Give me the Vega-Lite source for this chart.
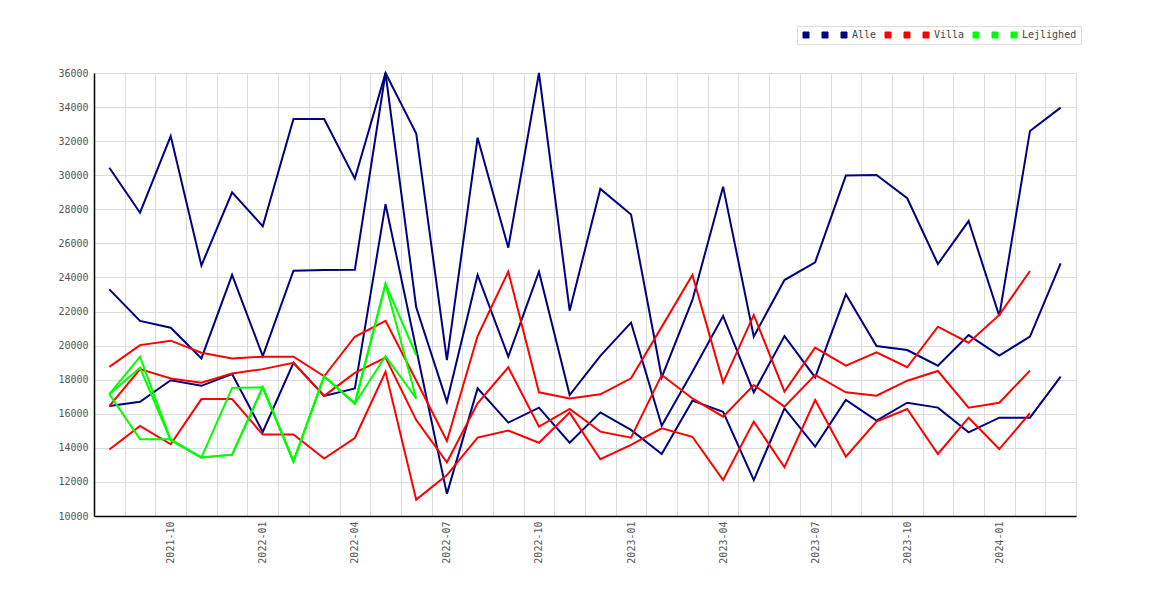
{
  "$schema": "https://vega.github.io/schema/vega-lite/v6.json",
  "width": 982,
  "height": 443,
  "autosize": {"type": "none"},
  "padding": {"left": 94, "top": 73, "right": 94, "bottom": 84},
  "background": "#ffffff",
  "config": {
    "view": {"stroke": "#dcdcdc", "strokeWidth": 1},
    "axis": {"labelFont": "DejaVu Sans Mono", "labelFontSize": 10, "labelColor": "#555555", "gridColor": "#dcdcdc", "gridWidth": 1, "domainColor": "#000000", "domainWidth": 1.5, "ticks": false, "title": null}
  },
  "data": {
    "values": [
      {"m": "2021-08", "Alle a": 30440, "Alle b": 23300, "Alle": 16450, "Villa a": 18750, "Villa b": 16450, "Villa": 13900, "Lejlighed a": 17150, "Lejlighed b": 17150, "Lejlighed": 17150},
      {"m": "2021-09", "Alle a": 27800, "Alle b": 21450, "Alle": 16700, "Villa a": 20030, "Villa b": 18620, "Villa": 15290, "Lejlighed a": 19350, "Lejlighed b": 18700, "Lejlighed": 14500},
      {"m": "2021-10", "Alle a": 32300, "Alle b": 21050, "Alle": 17970, "Villa a": 20290, "Villa b": 18070, "Villa": 14210, "Lejlighed a": 14450, "Lejlighed b": 14450, "Lejlighed": 14500},
      {"m": "2021-11", "Alle a": 24700, "Alle b": 19250, "Alle": 17640, "Villa a": 19580, "Villa b": 17820, "Villa": 16860, "Lejlighed a": 13430, "Lejlighed b": 13430, "Lejlighed": 13430},
      {"m": "2021-12", "Alle a": 29000, "Alle b": 24150, "Alle": 18330, "Villa a": 19250, "Villa b": 18360, "Villa": 16860, "Lejlighed a": 17520, "Lejlighed b": 13600, "Lejlighed": 13600},
      {"m": "2022-01", "Alle a": 27000, "Alle b": 19380, "Alle": 14930, "Villa a": 19350, "Villa b": 18620, "Villa": 14780, "Lejlighed a": 17550, "Lejlighed b": 17550, "Lejlighed": 17550},
      {"m": "2022-02", "Alle a": 33300, "Alle b": 24400, "Alle": 18990, "Villa a": 19350, "Villa b": 18990, "Villa": 14780, "Lejlighed a": 13200, "Lejlighed b": 13200, "Lejlighed": 13200},
      {"m": "2022-03", "Alle a": 33300, "Alle b": 24440, "Alle": 17050, "Villa a": 18200, "Villa b": 17050, "Villa": 13370, "Lejlighed a": 18200, "Lejlighed b": 18200, "Lejlighed": 18200},
      {"m": "2022-04", "Alle a": 29800, "Alle b": 24450, "Alle": 17480, "Villa a": 20520, "Villa b": 18400, "Villa": 14580, "Lejlighed a": 16600, "Lejlighed b": 16600, "Lejlighed": 16600},
      {"m": "2022-05", "Alle a": 36000, "Alle b": 36000, "Alle": 28300, "Villa a": 21450, "Villa b": 19300, "Villa": 18460, "Lejlighed a": 23620, "Lejlighed b": 23620, "Lejlighed": 19380},
      {"m": "2022-06", "Alle a": 32450, "Alle b": 22250, "Alle": 19800, "Villa a": 17950, "Villa b": 15630, "Villa": 10960, "Lejlighed a": 19450, "Lejlighed b": 16900, "Lejlighed": 16900},
      {"m": "2022-07", "Alle a": 19150, "Alle b": 16700, "Alle": 11300, "Villa a": 14400, "Villa b": 13150, "Villa": 12400},
      {"m": "2022-08", "Alle a": 32200, "Alle b": 24150, "Alle": 17490, "Villa a": 20560, "Villa b": 16610, "Villa": 14600},
      {"m": "2022-09", "Alle a": 25750, "Alle b": 19350, "Alle": 15480, "Villa a": 24340, "Villa b": 18730, "Villa": 15010},
      {"m": "2022-10", "Alle a": 36000, "Alle b": 24340, "Alle": 16360, "Villa a": 17260, "Villa b": 15240, "Villa": 14300},
      {"m": "2022-11", "Alle a": 22050, "Alle b": 17100, "Alle": 14300, "Villa a": 16900, "Villa b": 16280, "Villa": 16070},
      {"m": "2022-12", "Alle a": 29200, "Alle b": 19400, "Alle": 16080, "Villa a": 17140, "Villa b": 14950, "Villa": 13330},
      {"m": "2023-01", "Alle a": 27700, "Alle b": 21350, "Alle": 15050, "Villa a": 18080, "Villa b": 14600, "Villa": 14170},
      {"m": "2023-02", "Alle a": 18140, "Alle b": 15300, "Alle": 13640, "Villa a": 21100, "Villa b": 18280, "Villa": 15150},
      {"m": "2023-03", "Alle a": 22680, "Alle b": 18470, "Alle": 16770, "Villa a": 24140, "Villa b": 16900, "Villa": 14650},
      {"m": "2023-04", "Alle a": 29330, "Alle b": 21740, "Alle": 16120, "Villa a": 17830, "Villa b": 15830, "Villa": 12110},
      {"m": "2023-05", "Alle a": 20530, "Alle b": 17260, "Alle": 12110, "Villa a": 21800, "Villa b": 17690, "Villa": 15540},
      {"m": "2023-06", "Alle a": 23850, "Alle b": 20560, "Alle": 16320, "Villa a": 17300, "Villa b": 16420, "Villa": 12860},
      {"m": "2023-07", "Alle a": 24890, "Alle b": 18140, "Alle": 14070, "Villa a": 19880, "Villa b": 18280, "Villa": 16810},
      {"m": "2023-08", "Alle a": 29980, "Alle b": 23010, "Alle": 16810, "Villa a": 18820, "Villa b": 17260, "Villa": 13480},
      {"m": "2023-09", "Alle a": 30010, "Alle b": 19980, "Alle": 15600, "Villa a": 19610, "Villa b": 17060, "Villa": 15540},
      {"m": "2023-10", "Alle a": 28650, "Alle b": 19740, "Alle": 16650, "Villa a": 18730, "Villa b": 17940, "Villa": 16280},
      {"m": "2023-11", "Alle a": 24790, "Alle b": 18820, "Alle": 16360, "Villa a": 21110, "Villa b": 18510, "Villa": 13640},
      {"m": "2023-12", "Alle a": 27310, "Alle b": 20620, "Alle": 14910, "Villa a": 20170, "Villa b": 16360, "Villa": 15770},
      {"m": "2024-01", "Alle a": 21740, "Alle b": 19410, "Alle": 15770, "Villa a": 21800, "Villa b": 16650, "Villa": 13930},
      {"m": "2024-02", "Alle a": 32600, "Alle b": 20530, "Alle": 15770, "Villa a": 24380, "Villa b": 18530, "Villa": 16030},
      {"m": "2024-03", "Alle a": 33970, "Alle b": 24830, "Alle": 18180}
    ]
  },
  "transform": [
    {"fold": ["Alle a", "Alle b", "Alle", "Villa a", "Villa b", "Villa", "Lejlighed a", "Lejlighed b", "Lejlighed"], "as": ["serie", "pris"]},
    {"filter": "isValid(datum.pris)"}
  ],
  "mark": {"type": "line", "strokeWidth": 2, "interpolate": "linear"},
  "encoding": {
    "x": {
      "field": "m", "type": "ordinal", "sort": null, "bandPosition": 0.5,
      "scale": {"type": "band", "paddingInner": 0, "paddingOuter": 0},
      "axis": {"grid": true, "tickBand": "extent", "labelAngle": -90, "labelPadding": 5, "labelOverlap": false,
        "labelExpr": "test(/-(01|04|07|10)$/, datum.value) ? datum.value : ''"}
    },
    "y": {
      "field": "pris", "type": "quantitative",
      "scale": {"domain": [10000, 36000], "nice": false, "zero": false},
      "axis": {"values": [10000, 12000, 14000, 16000, 18000, 20000, 22000, 24000, 26000, 28000, 30000, 32000, 34000, 36000], "grid": true, "labelPadding": 6, "format": "d"}
    },
    "color": {
      "field": "serie", "type": "nominal",
      "scale": {
        "domain": ["Alle a", "Alle b", "Alle", "Villa a", "Villa b", "Villa", "Lejlighed a", "Lejlighed b", "Lejlighed"],
        "range": ["#000080", "#000080", "#000080", "#ff0000", "#ff0000", "#ff0000", "#00ff00", "#00ff00", "#00ff00"]
      },
      "legend": {
        "orient": "none", "legendX": 703, "legendY": -47, "direction": "horizontal", "title": null,
        "symbolType": "square", "symbolSize": 36, "symbolStrokeWidth": 1, "symbolStrokeColor": "#555555",
        "labelFont": "DejaVu Sans Mono", "labelFontSize": 10, "labelColor": "#444444", "labelOffset": 3,
        "columnPadding": 6, "padding": 4, "strokeColor": "#dddddd", "fillColor": "#ffffff",
        "labelExpr": "test(/ [ab]$/, datum.label) ? ' ' : datum.label",
        "encode": {"symbols": {"update": {"fill": {"scale": "color", "field": "value"}, "stroke": {"value": "#555555"}, "opacity": {"value": 1}}}}
      }
    }
  }
}
